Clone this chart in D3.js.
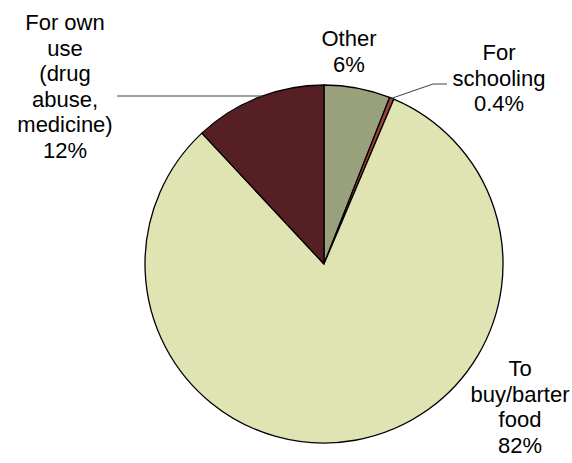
<!DOCTYPE html>
<html>
<head>
<meta charset="utf-8">
<script src="https://cdn.jsdelivr.net/npm/d3@7"></script>
<style>
  html, body { margin: 0; padding: 0; background: #fff; }
  svg { display: block; }
  text { font-family: "Liberation Sans", Arial, sans-serif; fill: #000; }
</style>
</head>
<body>
<svg id="chart" width="572" height="463"></svg>
<script>
const categories = ["Other", "For schooling", "To buy/barter food", "For own use (drug abuse, medicine)"];
const values = [6, 0.4, 82, 12];
const percentLabels = ["6%", "0.4%", "82%", "12%"];
const labelLines = [
  ["Other"],
  ["For", "schooling"],
  ["To", "buy/barter", "food"],
  ["For own", "use", "(drug", "abuse,", "medicine)"]
];
const colors = ["#98a07c", "#a0403c", "#dfe4b2", "#561f24"];

const W = 572, H = 463;
const cx = 324, cy = 264, R = 179;
const fontSize = 22, lineH = 25.5;

const svg = d3.select("#chart");
const g = svg.append("g").attr("transform", `translate(${cx},${cy})`);

const pie = d3.pie().sort(null).value(d => d.value).startAngle(0).endAngle(2 * Math.PI);
const data = categories.map((c, i) => ({ name: c, value: values[i], pct: percentLabels[i], lines: labelLines[i], color: colors[i] }));
const arcs = pie(data);
const arc = d3.arc().innerRadius(0).outerRadius(R);

g.selectAll("path.slice")
  .data(arcs)
  .join("path")
  .attr("class", "slice")
  .attr("d", arc)
  .attr("fill", d => d.data.color)
  .attr("stroke", "#000")
  .attr("stroke-width", 1.3)
  .attr("stroke-linejoin", "round");

// label placement (text block centre x, first baseline y)
const labelPos = [
  { x: 349, y: 46 },
  { x: 499, y: 60 },
  { x: 520, y: 376 },
  { x: 65, y: 30 }
];

function pointOnArc(angle, r) {
  return [Math.sin(angle) * r, -Math.cos(angle) * r];
}

// leader lines
const leaderG = svg.append("g").attr("fill", "none").attr("stroke", "#404040").attr("stroke-width", 1);
{
  const a = (arcs[1].startAngle + arcs[1].endAngle) / 2;
  const p = pointOnArc(a, R);
  leaderG.append("path").attr("d", d3.line()([[cx + p[0], cy + p[1]], [433, 84], [447, 84]]));
}
{
  const yL = 96;
  const dy = yL - cy;
  const xEdge = cx - Math.sqrt(R * R - dy * dy);
  leaderG.append("path").attr("d", d3.line()([[xEdge, yL], [117, yL]]));
}

const lg = svg.append("g");
arcs.forEach((d, i) => {
  const lines = d.data.lines.concat([d.data.pct]);
  const t = lg.append("text")
    .attr("text-anchor", "middle")
    .attr("font-size", fontSize);
  lines.forEach((ln, j) => {
    t.append("tspan").attr("x", labelPos[i].x).attr("y", labelPos[i].y + j * lineH).text(ln);
  });
});
</script>
</body>
</html>
